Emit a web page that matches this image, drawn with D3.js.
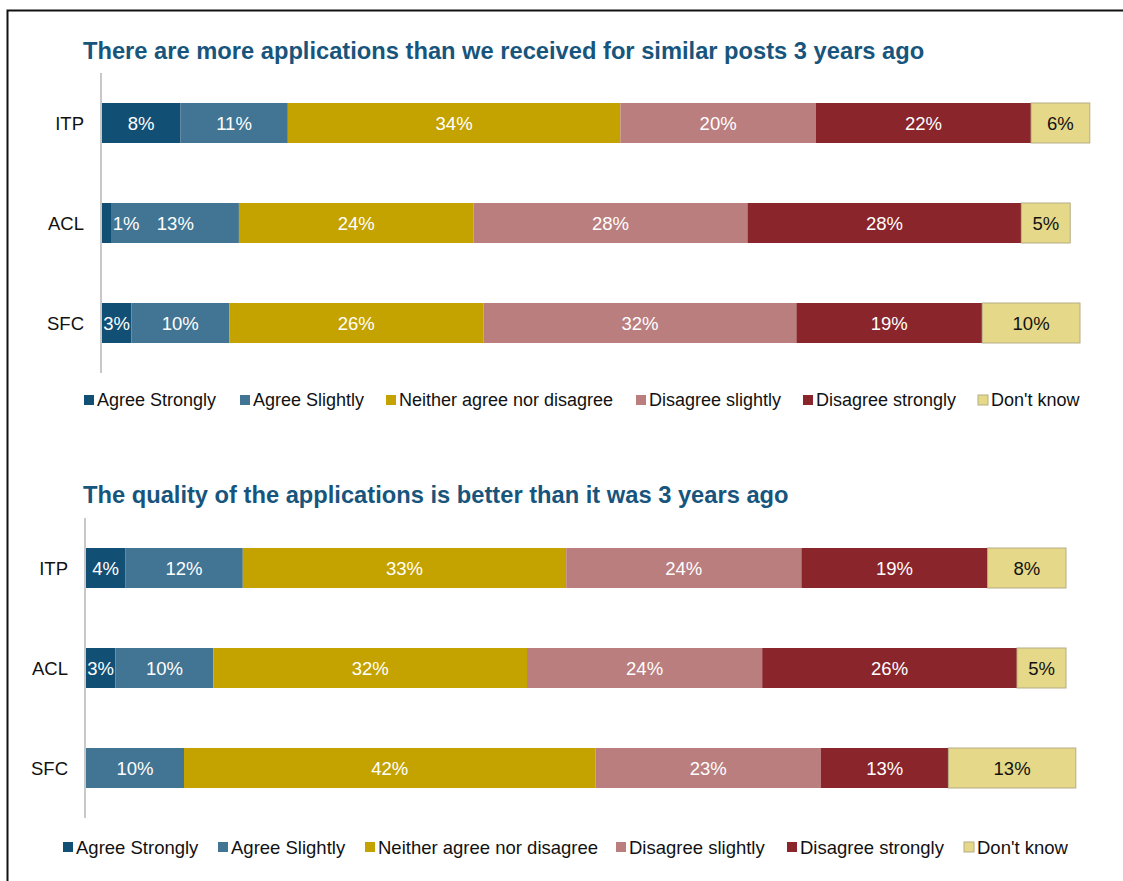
<!DOCTYPE html>
<html>
<head>
<meta charset="utf-8">
<script src="https://cdn.jsdelivr.net/npm/d3@7/dist/d3.min.js"></script>
<style>
  html, body { margin: 0; padding: 0; background: #fff; }
  svg { display: block; font-family: "Liberation Sans", Arial, sans-serif; }
</style>
</head>
<body>
<svg id="chart" width="1123" height="881"></svg>
<script>
// Survey response categories (stack order, left to right)
const responses = ["Agree Strongly", "Agree Slightly", "Neither agree nor disagree",
                   "Disagree slightly", "Disagree strongly", "Don't know"];
const colors = ["#124f75", "#427594", "#c4a300", "#ba7e7e", "#8a252b", "#e5d888"];
const labelColors = ["#fff", "#fff", "#fff", "#fff", "#fff", "#111"];

const providers = ["ITP", "ACL", "SFC"];

// Question 1: more applications than 3 years ago (% per response)
const q1Title = "There are more applications than we received for similar posts 3 years ago";
const q1Values = [
  [8, 11, 34, 20, 22, 6],   // ITP
  [1, 13, 24, 28, 28, 5],   // ACL
  [3, 10, 26, 32, 19, 10]   // SFC
];

// Question 2: quality of applications better than 3 years ago (% per response)
const q2Title = "The quality of the applications is better than it was 3 years ago";
const q2Values = [
  [4, 12, 33, 24, 19, 8],   // ITP
  [3, 10, 32, 24, 26, 5],   // ACL
  [0, 10, 42, 23, 13, 13]   // SFC
];

const svg = d3.select("#chart");

// outer frame
svg.append("rect")
  .attr("x", 7.5).attr("y", 10.5)
  .attr("width", 1200).attr("height", 1000)
  .attr("fill", "none").attr("stroke", "#111").attr("stroke-width", 2);

function drawPanel(cfg) {
  const g = svg.append("g");

  g.append("text")
    .attr("x", cfg.titleX).attr("y", cfg.titleY)
    .attr("fill", "#17557d")
    .attr("font-size", 23.7).attr("font-weight", "bold")
    .text(cfg.title);

  const x = d3.scaleLinear().domain([0, 100]).range([cfg.x0, cfg.x1]);
  const y = d3.scaleBand().domain(providers).range([cfg.yTop, cfg.yBottom]).paddingInner(0.6).paddingOuter(0.3);

  // rows of stacked segments
  const rows = g.selectAll("g.row")
    .data(providers.map((p, i) => ({ p, vals: cfg.values[i] })))
    .join("g").attr("class", "row");

  rows.each(function (row) {
    const rg = d3.select(this);
    let acc = 0;
    const segs = row.vals.map((v, k) => {
      const s = { k, v, start: acc, end: acc + v };
      acc += v;
      return s;
    });
    rg.selectAll("rect")
      .data(segs.filter(s => s.v > 0))
      .join("rect")
      .attr("x", s => x(s.start))
      .attr("y", y(row.p))
      .attr("width", s => x(s.end) - x(s.start))
      .attr("height", y.bandwidth())
      .attr("fill", s => colors[s.k])
      .attr("stroke", s => s.k === 5 ? "#b5ad85" : "none")
      .attr("stroke-width", 1);

    rg.selectAll("text.val")
      .data(segs.filter(s => s.v > 0))
      .join("text")
      .attr("class", "val")
      .attr("x", s => {
        const w = x(s.end) - x(s.start);
        return w < 16 ? x(s.end) + 1 : (x(s.start) + x(s.end)) / 2;
      })
      .attr("text-anchor", s => (x(s.end) - x(s.start)) < 16 ? "start" : "middle")
      .attr("y", y(row.p) + y.bandwidth() / 2)
      .attr("dy", "0.36em")
      .attr("font-size", 18.5)
      .attr("fill", s => labelColors[s.k])
      .text(s => s.v + "%");

    rg.append("text")
      .attr("x", cfg.x0 - 18)
      .attr("y", y(row.p) + y.bandwidth() / 2)
      .attr("dy", "0.36em")
      .attr("text-anchor", "end")
      .attr("font-size", 18.5)
      .attr("fill", "#111")
      .text(row.p);
  });

  // category axis line
  g.append("line")
    .attr("x1", cfg.x0 - 1).attr("x2", cfg.x0 - 1)
    .attr("y1", cfg.yTop).attr("y2", cfg.yBottom)
    .attr("stroke", "#c8c8c8").attr("stroke-width", 2);

  // legend
  const lg = g.append("g");
  responses.forEach((r, k) => {
    const lx = cfg.legendX[k];
    lg.append("rect")
      .attr("x", lx).attr("y", cfg.legendY - 5)
      .attr("width", 10).attr("height", 10)
      .attr("fill", colors[k])
      .attr("stroke", k === 5 ? "#b5ad85" : "none");
    lg.append("text")
      .attr("x", lx + 13).attr("y", cfg.legendY)
      .attr("dy", "0.36em")
      .attr("font-size", cfg.legendSize)
      .attr("fill", "#111")
      .text(r);
  });
}

drawPanel({
  title: q1Title, titleX: 83, titleY: 59,
  values: q1Values,
  x0: 102, x1: 1080,
  yTop: 73, yBottom: 373,
  legendX: [84, 240, 386, 636, 803, 978], legendY: 400, legendSize: 18
});

drawPanel({
  title: q2Title, titleX: 83, titleY: 503,
  values: q2Values,
  x0: 86, x1: 1066,
  yTop: 518, yBottom: 818,
  legendX: [63, 218, 365, 616, 787, 964], legendY: 847, legendSize: 18.5
});
</script>
</body>
</html>
